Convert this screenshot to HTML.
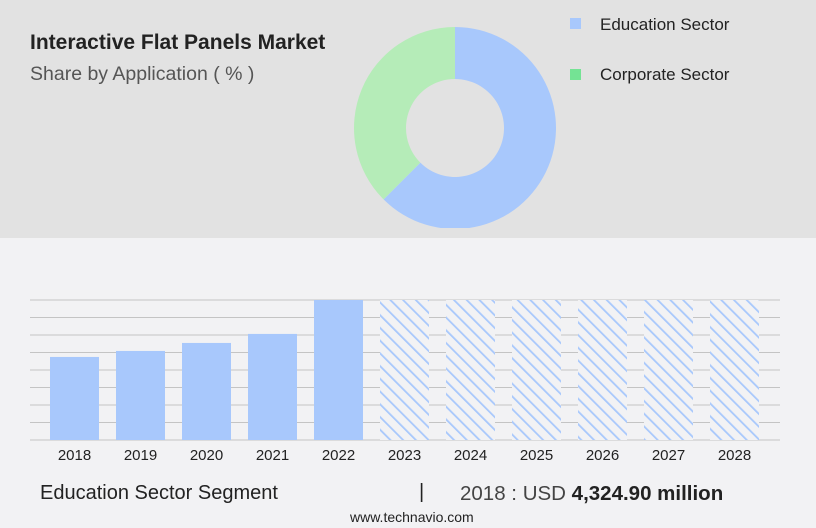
<!DOCTYPE html>
<html><head><meta charset="utf-8"><style>
body{margin:0;width:816px;height:528px;background:#f2f2f4;font-family:"Liberation Sans",sans-serif;position:relative;overflow:hidden}
.top{position:absolute;left:0;top:0;width:816px;height:238px;background:#e2e2e2}
.t{position:absolute;white-space:nowrap;color:#222}
</style></head><body>
<div class="top"></div>
<div class="t" style="left:30px;top:31px;font-size:21px;font-weight:bold">Interactive Flat Panels Market</div>
<div class="t" style="left:30px;top:63px;font-size:19.5px;color:#555">Share by Application ( % )</div>
<svg width="816" height="528" style="position:absolute;left:0;top:0">
<defs><pattern id="h" width="9" height="9" patternUnits="userSpaceOnUse" patternTransform="rotate(-45)"><rect width="9" height="9" fill="#f2f2f4"/><rect x="0" width="1.8" height="9" fill="#a8c8fc"/></pattern>
<clipPath id="c"><rect x="0" y="0" width="816" height="228"/></clipPath></defs>
<g id="donut" clip-path="url(#c)"></g>
<rect x="570" y="18" width="11" height="11" fill="#a8c8fc"/>
<text x="600" y="30" font-size="17" fill="#222">Education Sector</text>
<rect x="570" y="69" width="11" height="11" fill="#74e394"/>
<text x="600" y="80" font-size="17" fill="#222">Corporate Sector</text>
<g id="grid"></g><g id="bars"></g><g id="xl"></g>
</svg>
<div class="t" style="left:40px;top:482px;font-size:20px">Education Sector Segment</div>
<div class="t" style="left:419px;top:481px;font-size:20px">|</div>
<div class="t" style="left:460px;top:482px;font-size:20.5px;color:#444">2018 : USD <b style="color:#222">4,324.90 million</b></div>
<div class="t" style="left:350px;top:509px;font-size:14px">www.technavio.com</div>
<script>
const shareLabels=["Education Sector","Corporate Sector"];
const shareValues=[62.5,37.5];
const shareColors=["#a8c8fc","#b5ecb8"];
const years=["2018","2019","2020","2021","2022","2023","2024","2025","2026","2027","2028"];
const values=[4324.9,4637,5054,5523,7290,null,null,null,null,null,null];
const yMax=7290;
(function(){
const NS="http://www.w3.org/2000/svg";
function mk(t,a,p){const e=document.createElementNS(NS,t);for(const k in a)e.setAttribute(k,a[k]);p.appendChild(e);return e;}
const cx=455,cy=128,R=101,r=49;const dg=document.getElementById('donut');
let tot=shareValues.reduce((a,b)=>a+b,0),acc=0;
shareValues.forEach((v,i)=>{const a0=acc/tot*2*Math.PI;acc+=v;const a1=acc/tot*2*Math.PI;
const P=(rad,a)=>[cx+rad*Math.sin(a),cy-rad*Math.cos(a)];const lg=(a1-a0)>Math.PI?1:0;
const [x0,y0]=P(R,a0),[x1,y1]=P(R,a1),[x2,y2]=P(r,a1),[x3,y3]=P(r,a0);
const p=mk('path',{d:`M${x0},${y0}A${R},${R} 0 ${lg} 1 ${x1},${y1}L${x2},${y2}A${r},${r} 0 ${lg} 0 ${x3},${y3}Z`,fill:shareColors[i]},dg);

});
const base=440,plotTop=300,bx0=50,pitch=66,bw=49;
const yS=v=>base-(v/yMax)*(base-plotTop);
const g=document.getElementById('grid');
for(let k=0;k<=8;k++){const y=plotTop+k*(base-plotTop)/8;const l=mk('line',{x1:30,x2:780,y1:y,y2:y,stroke:'#c4c4c4','stroke-width':1},g);

}
const bg=document.getElementById('bars'),xl=document.getElementById('xl');
years.forEach((yr,i)=>{const x=bx0+i*pitch;const v=values[i];
const b=v!=null?mk('rect',{x:x,y:yS(v),width:bw,height:base-yS(v),fill:'#a8c8fc'},bg):mk('rect',{x:x,y:plotTop,width:bw,height:base-plotTop,fill:'url(#h)'},bg);


const t=mk('text',{x:x+bw/2,y:460,'text-anchor':'middle','font-size':15,fill:'#222'},xl);t.textContent=yr;

});
})();
</script>
</body></html>
